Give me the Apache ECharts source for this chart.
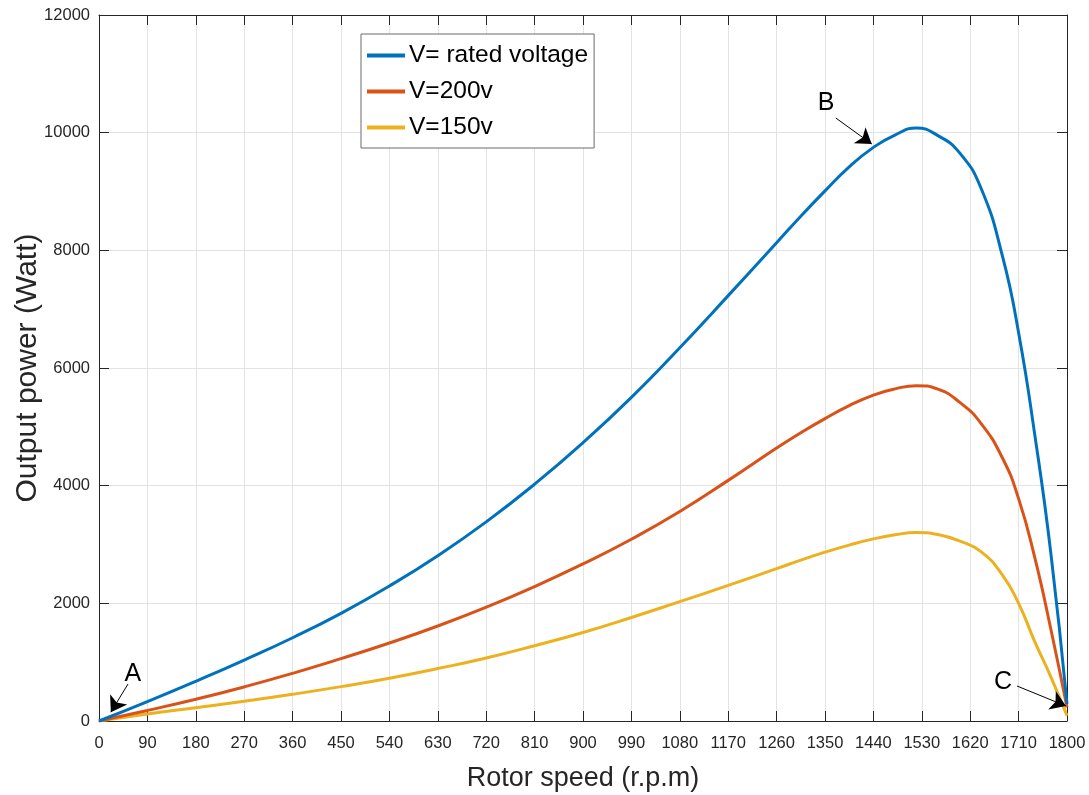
<!DOCTYPE html>
<html>
<head>
<meta charset="utf-8">
<script src="https://cdn.jsdelivr.net/npm/echarts@6/dist/echarts.min.js"></script>
<style>
html,body{margin:0;padding:0;background:#fff;}
#main{width:1089px;height:795px;}
</style>
</head>
<body>
<div id="main"></div>
<script>
// Data
const rpm = [0,90,180,270,360,450,540,630,720,810,900,990,1080,1170,1260,1305,1350,1395,1440,1480,1520,1560,1600,1640,1680,1710,1740,1770,1800];
const pRated = [0,330,675,1035,1415,1830,2295,2810,3385,4025,4730,5500,6345,7230,8130,8580,9010,9420,9750,9960,10080,9950,9660,9060,7900,6600,4870,2850,290];
const p200 = [0,180,370,580,810,1060,1325,1615,1935,2285,2670,3090,3560,4090,4640,4900,5140,5360,5540,5645,5700,5640,5420,5060,4470,3780,2780,1560,232];
const p150 = [0,120,227,335,454,584,726,891,1072,1280,1505,1760,2030,2305,2590,2735,2870,2990,3095,3165,3206,3170,3060,2880,2480,2000,1350,750,90];
const seriesNames = ['V= rated voltage','V=200v','V=150v'];
const xTicks = {min:0, max:1800, step:90};
const yTicks = {min:0, max:12000, step:2000};
// annotation points (data coordinates): label position, arrow start, arrow end
const annLabels = [{t:'A', x:63, y:800},{t:'B', x:1352, y:10510},{t:'C', x:1681, y:655}];
const annArrows = [[[54,629],[22,150]],[[1370,10250],[1437,9807]],[[1707,595],[1798,255]]];

const font = "'Liberation Sans', Arial, Helvetica, sans-serif";
const zip = (xs, ys) => xs.map((x,i)=>[x, ys[i]]);

const chart = echarts.init(document.getElementById('main'), null, {renderer:'canvas'});
const axisCommon = {
  axisLine:{show:true, onZero:false, lineStyle:{color:'#262626', width:1}},
  axisTick:{show:true, inside:true, length:10, lineStyle:{color:'#262626', width:1}},
};
const plain = v => String(v);
const option = {
  animation:false,
  backgroundColor:'#fff',
  grid:{left:99, right:22, top:15, bottom:74, containLabel:false, outerBoundsMode:'none'},
  legend:{
    data:seriesNames,
    left:361, top:34,
    orient:'vertical',
    padding:[9,6,8,6],
    itemGap:11,
    itemWidth:38, itemHeight:4,
    icon:'rect',
    backgroundColor:'#fff',
    borderColor:'#6b6b6b', borderWidth:1, borderRadius:0,
    textStyle:{fontFamily:font, fontSize:24.5, color:'#000', padding:[0,0,0,-1]}
  },
  xAxis:[
    Object.assign({
      type:'value', min:xTicks.min, max:xTicks.max, interval:xTicks.step,
      name:'Rotor speed (r.p.m)', nameLocation:'middle', nameGap:44, nameMoveOverlap:false,
      nameTextStyle:{fontFamily:font, fontSize:27, color:'#262626'},
      axisLabel:{fontFamily:font, fontSize:16.5, color:'#262626', margin:14, formatter:plain},
      splitLine:{show:true, lineStyle:{color:'#e3e3e3', width:1}}
    }, axisCommon),
    Object.assign({
      type:'value', position:'top', min:xTicks.min, max:xTicks.max, interval:xTicks.step,
      axisLabel:{show:false}, splitLine:{show:false}
    }, axisCommon)
  ],
  yAxis:[
    Object.assign({
      type:'value', min:yTicks.min, max:yTicks.max, interval:yTicks.step,
      name:'Output power (Watt)', nameLocation:'middle', nameGap:56, nameMoveOverlap:false,
      nameTextStyle:{fontFamily:font, fontSize:30, color:'#262626'},
      axisLabel:{fontFamily:font, fontSize:16.5, color:'#262626', margin:9, formatter:plain},
      splitLine:{show:true, lineStyle:{color:'#e3e3e3', width:1}}
    }, axisCommon),
    Object.assign({
      type:'value', position:'right', min:yTicks.min, max:yTicks.max, interval:yTicks.step,
      axisLabel:{show:false}, splitLine:{show:false}
    }, axisCommon)
  ],
  series:[
    {name:seriesNames[0], type:'line', data:zip(rpm,pRated), showSymbol:false, symbol:'none',
     smooth:0.5, z:4,
     lineStyle:{color:'#0072BD', width:3}, itemStyle:{color:'#0072BD'}},
    {name:seriesNames[1], type:'line', data:zip(rpm,p200), showSymbol:false, symbol:'none',
     smooth:0.5, z:3,
     lineStyle:{color:'#D95319', width:3}, itemStyle:{color:'#D95319'}},
    {name:seriesNames[2], type:'line', data:zip(rpm,p150), showSymbol:false, symbol:'none',
     smooth:0.5, z:2,
     lineStyle:{color:'#EDB120', width:3}, itemStyle:{color:'#EDB120'}},
    {name:'annotations', type:'line', data:[], silent:true, z:10,
     markLine:{
       silent:true, animation:false,
       symbol:['none','arrow'], symbolSize:15,
       lineStyle:{color:'#000', width:1, type:'solid'},
       itemStyle:{color:'#000'},
       label:{show:false},
       emphasis:{disabled:true},
       data: annArrows.map(a=>[{coord:a[0]},{coord:a[1]}])
     },
     markPoint:{
       silent:true, animation:false,
       symbol:'circle', symbolSize:0,
       label:{show:true, position:'inside', fontFamily:font, fontSize:25, color:'#000',
              formatter:p=>p.name},
       data: annLabels.map(l=>({name:l.t, coord:[l.x,l.y]}))
     }
    }
  ]
};
chart.setOption(option);
</script>
</body>
</html>
